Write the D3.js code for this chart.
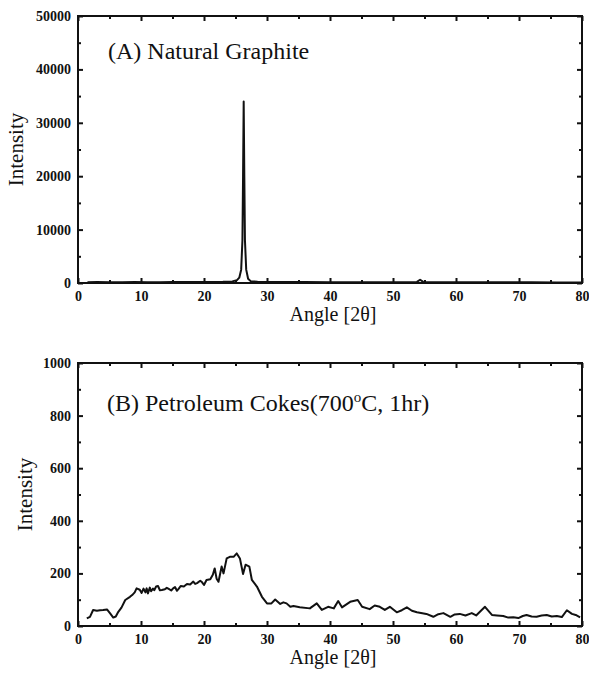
<!DOCTYPE html>
<html>
<head>
<meta charset="utf-8">
<script src="https://cdn.jsdelivr.net/npm/d3@7/dist/d3.min.js"></script>
<style>
  body { margin: 0; background: #fff; }
  svg text { font-family: "Liberation Serif", "Times New Roman", serif; fill: #111; }
</style>
</head>
<body>
<div class="start"></div>
<script>
// x axis (angle 2theta)
var angleTicks = [0, 10, 20, 30, 40, 50, 60, 70, 80];
var angleMinor = [5, 15, 25, 35, 45, 55, 65, 75];

// (A) natural graphite
var graphiteTicks = [0, 10000, 20000, 30000, 40000, 50000];
var graphiteMinor = [5000, 15000, 25000, 35000, 45000];
var graphiteAngle = [1.5, 3, 5, 7, 9, 11, 13, 15, 17, 19, 21, 23, 24.5, 25.2, 25.6, 25.9, 26.1, 26.2, 26.3, 26.4, 26.5, 26.7, 27.0, 27.4, 28.5, 30, 33, 36, 40, 44, 48, 52, 53.8, 54.3, 54.8, 57, 60, 64, 68, 72, 76, 80];
var graphiteIntensity = [150, 180, 160, 140, 170, 150, 160, 200, 170, 180, 200, 230, 300, 500, 1000, 2500, 8000, 20000, 34000, 20000, 8000, 2500, 800, 350, 250, 200, 180, 170, 160, 150, 150, 140, 200, 600, 200, 140, 130, 130, 120, 120, 110, 110];

// (B) petroleum cokes
var cokeTicks = [0, 200, 400, 600, 800, 1000];
var cokeMinor = [100, 300, 500, 700, 900];
var cokeAngle = [1.4, 1.9, 2.4, 3.0, 3.5, 4.0, 4.6, 5.1, 5.6, 6.0, 6.4, 6.9, 7.5, 8.25, 8.7, 9.0, 9.3, 9.8, 10.1, 10.4, 10.7, 10.9, 11.1, 11.4, 11.6, 11.9, 12.1, 12.4, 12.7, 13.0, 13.3, 13.8, 14.1, 14.4, 14.8, 15.1, 15.4, 15.7, 16.0, 16.3, 16.8, 17.3, 17.8, 18.3, 18.6, 18.9, 19.4, 19.7, 20.0, 20.4, 21.0, 21.4, 21.7, 22.0, 22.3, 22.8, 23.1, 23.6, 24.1, 24.7, 25.2, 25.7, 26.2, 26.6, 27.2, 27.6, 28.4, 29.2, 30.0, 30.7, 31.3, 32.1, 32.6, 33.1, 33.7, 34.2, 35.2, 36.8, 37.9, 38.7, 39.7, 40.6, 41.3, 41.9, 43.2, 44.4, 45.1, 46.3, 47.1, 47.9, 48.7, 49.5, 50.6, 51.4, 52.2, 53.0, 53.8, 55.3, 56.4, 57.2, 58.0, 59.1, 59.8, 60.6, 61.5, 62.5, 63.2, 64.6, 65.7, 66.5, 67.5, 68.3, 69.1, 69.9, 70.6, 71.2, 72.0, 72.8, 73.6, 74.4, 75.2, 76.0, 76.8, 77.6, 78.4, 79.0, 79.7];
var cokeIntensity = [29, 35, 61, 58, 60, 61, 63, 48, 32, 36, 54, 70, 99, 111, 120, 128, 143, 138, 126, 142, 128, 143, 124, 146, 132, 142, 136, 150, 152, 136, 137, 140, 145, 141, 135, 143, 148, 134, 142, 152, 150, 160, 158, 169, 160, 163, 172, 166, 156, 175, 178, 195, 219, 180, 168, 226, 200, 257, 263, 263, 276, 257, 198, 233, 226, 175, 150, 111, 86, 86, 101, 84, 90, 86, 73, 76, 71, 67, 86, 61, 73, 67, 95, 71, 92, 99, 73, 64, 78, 73, 61, 73, 52, 60, 71, 58, 52, 46, 35, 45, 49, 35, 44, 46, 40, 49, 40, 73, 42, 40, 38, 32, 33, 30, 38, 42, 36, 35, 40, 42, 36, 38, 34, 60, 46, 42, 33];

var svg = d3.select('.start')
  .append('svg')
  .attr('width', 589)
  .attr('height', 677);

var x = d3.scaleLinear().domain([0, 80]).range([78, 582]);

function panel(top, bottom, yTicks, yMinor, angles, values, yLabelX) {
  var y = d3.scaleLinear().domain([yTicks[0], yTicks[yTicks.length - 1]]).range([bottom, top]);
  var g = svg.append('g');

  // inward ticks on all four sides
  g.append('g').attr('transform', 'translate(0,' + bottom + ')')
    .call(d3.axisBottom(x).tickValues(angleTicks).tickSize(-5).tickPadding(8).tickFormat(d3.format('d')));
  g.append('g').attr('transform', 'translate(0,' + bottom + ')')
    .call(d3.axisBottom(x).tickValues(angleMinor).tickSize(-3).tickFormat(''));
  g.append('g').attr('transform', 'translate(0,' + top + ')')
    .call(d3.axisTop(x).tickValues(angleTicks).tickSize(-5).tickFormat(''));
  g.append('g').attr('transform', 'translate(0,' + top + ')')
    .call(d3.axisTop(x).tickValues(angleMinor).tickSize(-3).tickFormat(''));
  g.append('g').attr('transform', 'translate(78,0)')
    .call(d3.axisLeft(y).tickValues(yTicks).tickSize(-5).tickPadding(7).tickFormat(d3.format('d')));
  g.append('g').attr('transform', 'translate(78,0)')
    .call(d3.axisLeft(y).tickValues(yMinor).tickSize(-3).tickFormat(''));
  g.append('g').attr('transform', 'translate(582,0)')
    .call(d3.axisRight(y).tickValues(yTicks).tickSize(-5).tickFormat(''));
  g.append('g').attr('transform', 'translate(582,0)')
    .call(d3.axisRight(y).tickValues(yMinor).tickSize(-3).tickFormat(''));

  g.selectAll('.domain').remove();
  g.selectAll('.tick line').attr('stroke', '#111').attr('stroke-width', 2);
  g.selectAll('.tick text')
    .style('font-family', '"Liberation Serif", "Times New Roman", serif')
    .style('font-size', '14px')
    .style('font-weight', 'bold')
    .style('fill', '#111');

  g.append('rect')
    .attr('x', 78).attr('y', top)
    .attr('width', 504).attr('height', bottom - top)
    .attr('fill', 'none').attr('stroke', '#111').attr('stroke-width', 2);

  var line = d3.line()
    .x(function(d, i) { return x(angles[i]); })
    .y(function(d) { return y(d); });

  g.append('path')
    .datum(values)
    .attr('d', line)
    .attr('fill', 'none')
    .attr('stroke', '#111')
    .attr('stroke-width', 2)
    .attr('stroke-linejoin', 'round');

  g.append('text')
    .attr('x', 333).attr('y', bottom + 38)
    .attr('text-anchor', 'middle')
    .attr('font-size', 20)
    .text('Angle [2\u03b8]');

  g.append('text')
    .attr('transform', 'translate(' + yLabelX + ',' + (top + bottom) / 2 + ') rotate(-90)')
    .attr('text-anchor', 'middle')
    .attr('font-size', 21)
    .text('Intensity');

  return g;
}

var a = panel(16, 283, graphiteTicks, graphiteMinor, graphiteAngle, graphiteIntensity, 23);
a.append('text')
  .attr('x', 108).attr('y', 59)
  .attr('font-size', 24)
  .text('(A) Natural Graphite');

var b = panel(363, 626, cokeTicks, cokeMinor, cokeAngle, cokeIntensity, 32);
var bt = b.append('text')
  .attr('x', 107).attr('y', 411)
  .attr('font-size', 24);
bt.append('tspan').text('(B) Petroleum Cokes(700');
bt.append('tspan').attr('font-size', 15).attr('dy', -9).text('o');
bt.append('tspan').attr('dy', 9).text('C, 1hr)');
</script>
</body>
</html>
